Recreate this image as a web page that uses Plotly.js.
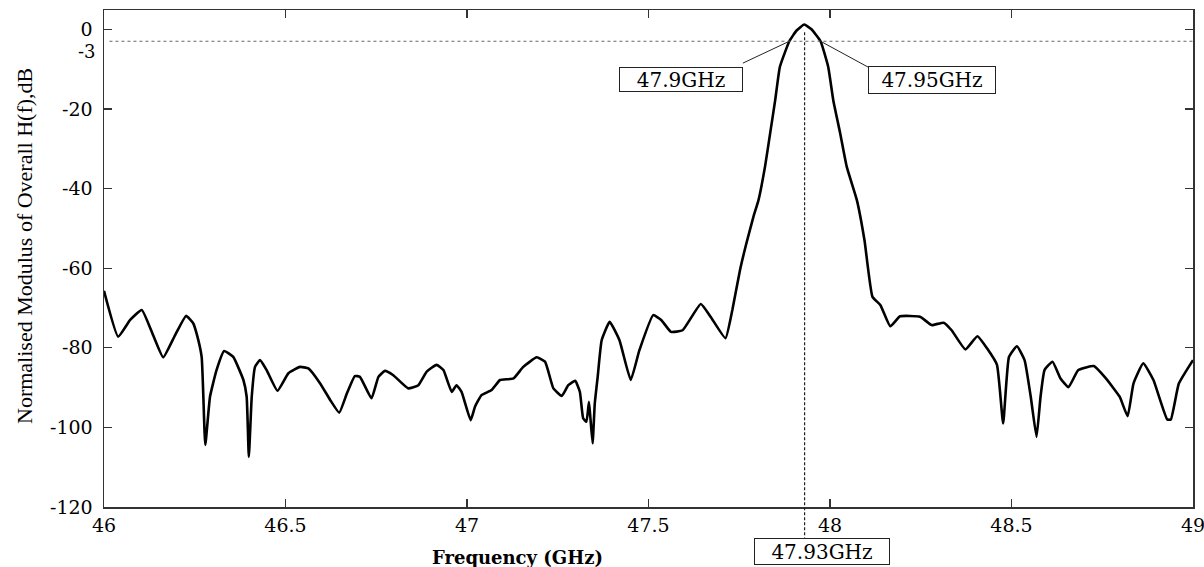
<!DOCTYPE html>
<html>
<head>
<meta charset="utf-8">
<script src="https://cdn.plot.ly/plotly-3.0.1.min.js"></script>
<style>html,body{margin:0;padding:0;background:#fff;}#chart{width:1204px;height:567px;}</style>
</head>
<body>
<div id="chart"></div>
<script>
// Frequency (GHz) and normalised modulus (dB)
var freq = [46.000,46.039,46.072,46.104,46.136,46.163,46.196,46.226,46.246,46.255,46.269,46.279,46.292,46.310,46.331,46.356,46.384,46.393,46.399,46.407,46.416,46.430,46.448,46.478,46.508,46.540,46.563,46.595,46.623,46.648,46.669,46.691,46.705,46.737,46.756,46.774,46.797,46.838,46.866,46.889,46.916,46.935,46.958,46.971,46.985,47.010,47.022,47.040,47.068,47.091,47.128,47.155,47.192,47.215,47.238,47.261,47.279,47.298,47.311,47.320,47.329,47.336,47.340,47.346,47.352,47.360,47.371,47.393,47.420,47.451,47.475,47.513,47.535,47.562,47.594,47.644,47.671,47.712,47.731,47.752,47.769,47.789,47.803,47.821,47.835,47.849,47.862,47.888,47.908,47.929,47.949,47.974,47.995,48.009,48.028,48.046,48.074,48.095,48.117,48.139,48.166,48.193,48.248,48.280,48.313,48.335,48.373,48.406,48.433,48.460,48.477,48.493,48.515,48.536,48.553,48.569,48.580,48.591,48.613,48.635,48.657,48.684,48.727,48.760,48.798,48.820,48.836,48.863,48.891,48.929,48.939,48.961,49.000];
var magDb = [-65.7,-77.2,-73.0,-70.5,-77.0,-82.4,-76.8,-72.0,-73.9,-76.4,-82.3,-104.4,-92.3,-85.6,-80.8,-82.3,-88.1,-92.3,-107.4,-92.3,-84.8,-83.1,-85.6,-90.8,-86.4,-84.8,-85.2,-88.9,-93.1,-96.3,-91.5,-87.1,-87.3,-92.7,-87.3,-85.8,-86.9,-90.2,-89.4,-86.0,-84.3,-85.6,-91.1,-89.4,-91.1,-98.2,-94.8,-91.9,-90.6,-88.1,-87.7,-84.8,-82.4,-83.5,-90.2,-92.1,-89.4,-88.3,-91.1,-97.7,-98.6,-93.6,-97.7,-104.0,-94.0,-87.3,-78.1,-73.5,-78.1,-88.1,-80.6,-71.8,-73.0,-76.0,-75.6,-69.0,-72.2,-77.6,-70.5,-60.5,-54.0,-47.1,-42.9,-34.5,-26.2,-17.8,-9.4,-3.0,-0.3,1.2,0.0,-3.0,-9.4,-17.8,-26.1,-34.5,-42.9,-53.0,-67.2,-69.3,-74.6,-72.1,-72.2,-74.3,-73.7,-75.6,-80.4,-77.1,-80.2,-84.3,-99.0,-82.3,-79.6,-83.1,-92.3,-102.4,-92.3,-85.6,-83.5,-87.7,-89.9,-85.6,-84.6,-87.7,-92.3,-97.2,-89.0,-83.9,-88.1,-98.0,-98.0,-89.0,-83.1];

var xTicks = [46, 46.5, 47, 47.5, 48, 48.5, 49];
var xTickText = ['46', '46.5', '47', '47.5', '48', '48.5', '49'];
var yTicks = [0, -20, -40, -60, -80, -100, -120];
var yTickText = ['0', '-20', '-40', '-60', '-80', '-100', '-120'];

var halfPowerDb = -3;
var lowEdge = 47.888, highEdge = 47.974, centreFreq = 47.93;
var lowLabel = '47.9GHz', highLabel = '47.95GHz', centreLabel = '47.93GHz';

var serif = 'DejaVu Serif, Liberation Serif, serif';
var tickFont = {family: serif, size: 19, color: '#000'};
var boxFont = {family: serif, size: 20, color: '#000'};

var trace = {
  x: freq, y: magDb, type: 'scatter', mode: 'lines',
  line: {color: '#000', width: 2.6, shape: 'spline', smoothing: 0.4},
  hoverinfo: 'skip'
};

var axisCommon = {
  showline: true, linecolor: '#333', linewidth: 1.5, mirror: 'ticks',
  ticks: 'inside', ticklen: 8, tickwidth: 1.2, tickcolor: '#333',
  showgrid: false, zeroline: false, tickfont: tickFont,
  ticklabeloverflow: 'allow'
};

var layout = {
  width: 1204, height: 567,
  margin: {l: 104, r: 11, t: 10, b: 60, pad: 0},
  paper_bgcolor: '#fff', plot_bgcolor: '#fff',
  showlegend: false,
  xaxis: Object.assign({}, axisCommon, {range: [46, 49], tickvals: xTicks, ticktext: xTickText, ticklabelstandoff: 1}),
  yaxis: Object.assign({}, axisCommon, {range: [-120, 4.85], tickvals: yTicks, ticktext: yTickText, ticklabelstandoff: 6}),
  shapes: [
    {type: 'line', xref: 'paper', yref: 'y', x0: 0.005, x1: 1, y0: halfPowerDb, y1: halfPowerDb,
     line: {color: '#666', width: 1, dash: 'dot'}},
    {type: 'line', xref: 'x', yref: 'paper', x0: centreFreq, x1: centreFreq, y0: 0.955, y1: -0.062,
     line: {color: '#222', width: 1.2, dash: '3px,2px'}},
    {type: 'line', xref: 'x', yref: 'y', x0: lowEdge, y0: halfPowerDb, x1: 47.760, y1: -8.5,
     line: {color: '#222', width: 1}},
    {type: 'line', xref: 'x', yref: 'y', x0: highEdge, y0: halfPowerDb, x1: 48.105, y1: -9.5,
     line: {color: '#222', width: 1}}
  ],
  annotations: [
    {text: '-3', xref: 'paper', yref: 'y', x: 0, y: halfPowerDb, xanchor: 'right', yanchor: 'middle',
     xshift: -6, yshift: -10, showarrow: false, font: {family: serif, size: 18, color: '#000'}},
    {text: lowLabel, xref: 'paper', yref: 'paper', x: (680.5 - 104) / 1089, y: (507 - 79.5) / 497,
     xanchor: 'center', yanchor: 'middle', showarrow: false, font: boxFont,
     bordercolor: '#222', borderwidth: 1, borderpad: 1, bgcolor: '#fff', width: 120, height: 21},
    {text: highLabel, xref: 'paper', yref: 'paper', x: (932 - 104) / 1089, y: (507 - 80.5) / 497,
     xanchor: 'center', yanchor: 'middle', showarrow: false, font: boxFont,
     bordercolor: '#222', borderwidth: 1, borderpad: 1, bgcolor: '#fff', width: 124, height: 24},
    {text: centreLabel, xref: 'paper', yref: 'paper', x: (822 - 104) / 1089, y: (507 - 551) / 497,
     xanchor: 'center', yanchor: 'middle', showarrow: false, font: boxFont,
     bordercolor: '#222', borderwidth: 1, borderpad: 1, bgcolor: '#fff', width: 132, height: 23},
    {text: '<b>Frequency (GHz)</b>', xref: 'paper', yref: 'paper', x: (517 - 104) / 1089, y: (507 - 557) / 497,
     xanchor: 'center', yanchor: 'middle', showarrow: false,
     font: {family: serif, size: 18, color: '#000'}},
    {text: 'Normalised Modulus of Overall H(f),dB', xref: 'paper', yref: 'paper',
     x: (24 - 104) / 1089, y: (507 - 246) / 497, textangle: -90,
     xanchor: 'center', yanchor: 'middle', showarrow: false,
     font: {family: 'Liberation Serif, serif', size: 22, color: '#000'}}
  ]
};

Plotly.newPlot('chart', [trace], layout, {staticPlot: true, displayModeBar: false});
</script>
</body>
</html>
